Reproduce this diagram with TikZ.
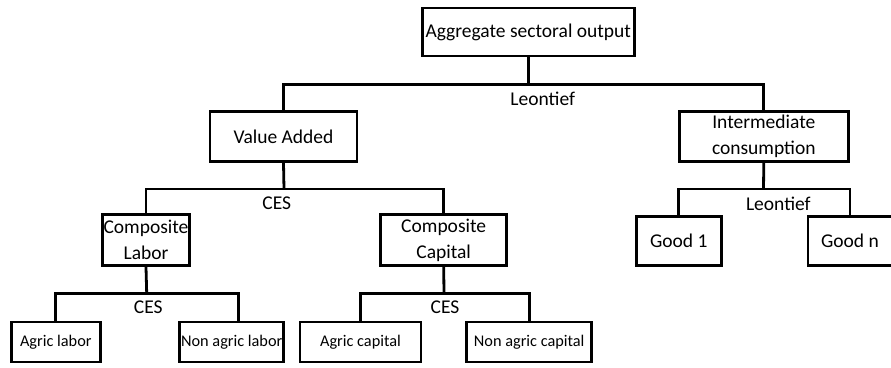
\documentclass[tikz,border=0pt]{standalone}
\usepackage{fontspec}
\setmainfont{Carlito}
\begin{document}
\begin{tikzpicture}[x=1pt,y=-1pt,
  box/.style={draw,line width=2.8pt,inner sep=0pt,align=center,font=\fontsize{19.5}{26}\selectfont},
  sbox/.style={box,font=\fontsize{16.3}{19}\selectfont},
  conn/.style={line width=2.8pt},
  lbl/.style={inner sep=0pt,font=\fontsize{19.5}{24}\selectfont}]
\useasboundingbox (0,0) rectangle (891,367);
\clip (0,0) rectangle (891,367);
% boxes
\node[box,minimum width=212,minimum height=48] (agg) at (528.2,32) {Aggregate sectoral output};
\node[box,minimum width=147,minimum height=50] (va) at (283.5,136.7) {Value Added};
\node[box,minimum width=169,minimum height=50] (ic) at (763.8,136.7) {Intermediate\\consumption};
\node[box,minimum width=87,minimum height=51] (cl) at (146,240.3) {Composite\\Labor};
\node[box,minimum width=126,minimum height=51] (cc) at (443.7,240.3) {Composite\\Capital};
\node[box,minimum width=85,minimum height=49] (g1) at (678.8,241) {Good 1};
\node[box,minimum width=84,minimum height=49] (gn) at (850,241) {Good n};
\node[sbox,minimum width=89,minimum height=40] (al) at (55.8,342) {Agric labor};
\node[sbox,minimum width=104,minimum height=40] (nal) at (231.7,342) {Non agric labor};
\node[sbox,minimum width=121,minimum height=40] (ac) at (360.5,342) {Agric capital};
\node[sbox,minimum width=125,minimum height=40] (nac) at (529.2,342) {Non agric capital};
% bar junctions
\coordinate (b0) at (528.2,84.3);
\coordinate (b1) at (284,189);
\coordinate (b2) at (763.5,189);
\coordinate (b3) at (146.7,293.3);
\coordinate (b4) at (444,293.3);
% connectors
\draw[conn] (agg.south) -- (b0);
\draw[conn] (va.north) |- (b0) -| (ic.north);
\draw[conn] (va.south) -- (b1);
\draw[conn] (cl.north) |- (b1) -| (cc.north);
\draw[conn] (ic.south) -- (b2);
\draw[conn] (g1.north) |- (b2) -| (gn.north);
\draw[conn] (cl.south) -- (b3);
\draw[conn] (al.north) |- (b3) -| ([xshift=6.6pt]nal.north);
\draw[conn] (cc.south) -- (b4);
\draw[conn] (ac.north) |- (b4) -| (nac.north);
% labels
\node[lbl] (l0) at (542.7,99.3) {Leontief};
\node[lbl] (l1) at (276.7,203.3) {CES};
\node[lbl] (l2) at (778.3,204) {Leontief};
\node[lbl] (l3) at (148.3,307.7) {CES};
\node[lbl] (l4) at (445,307.7) {CES};
\end{tikzpicture}
\end{document}
